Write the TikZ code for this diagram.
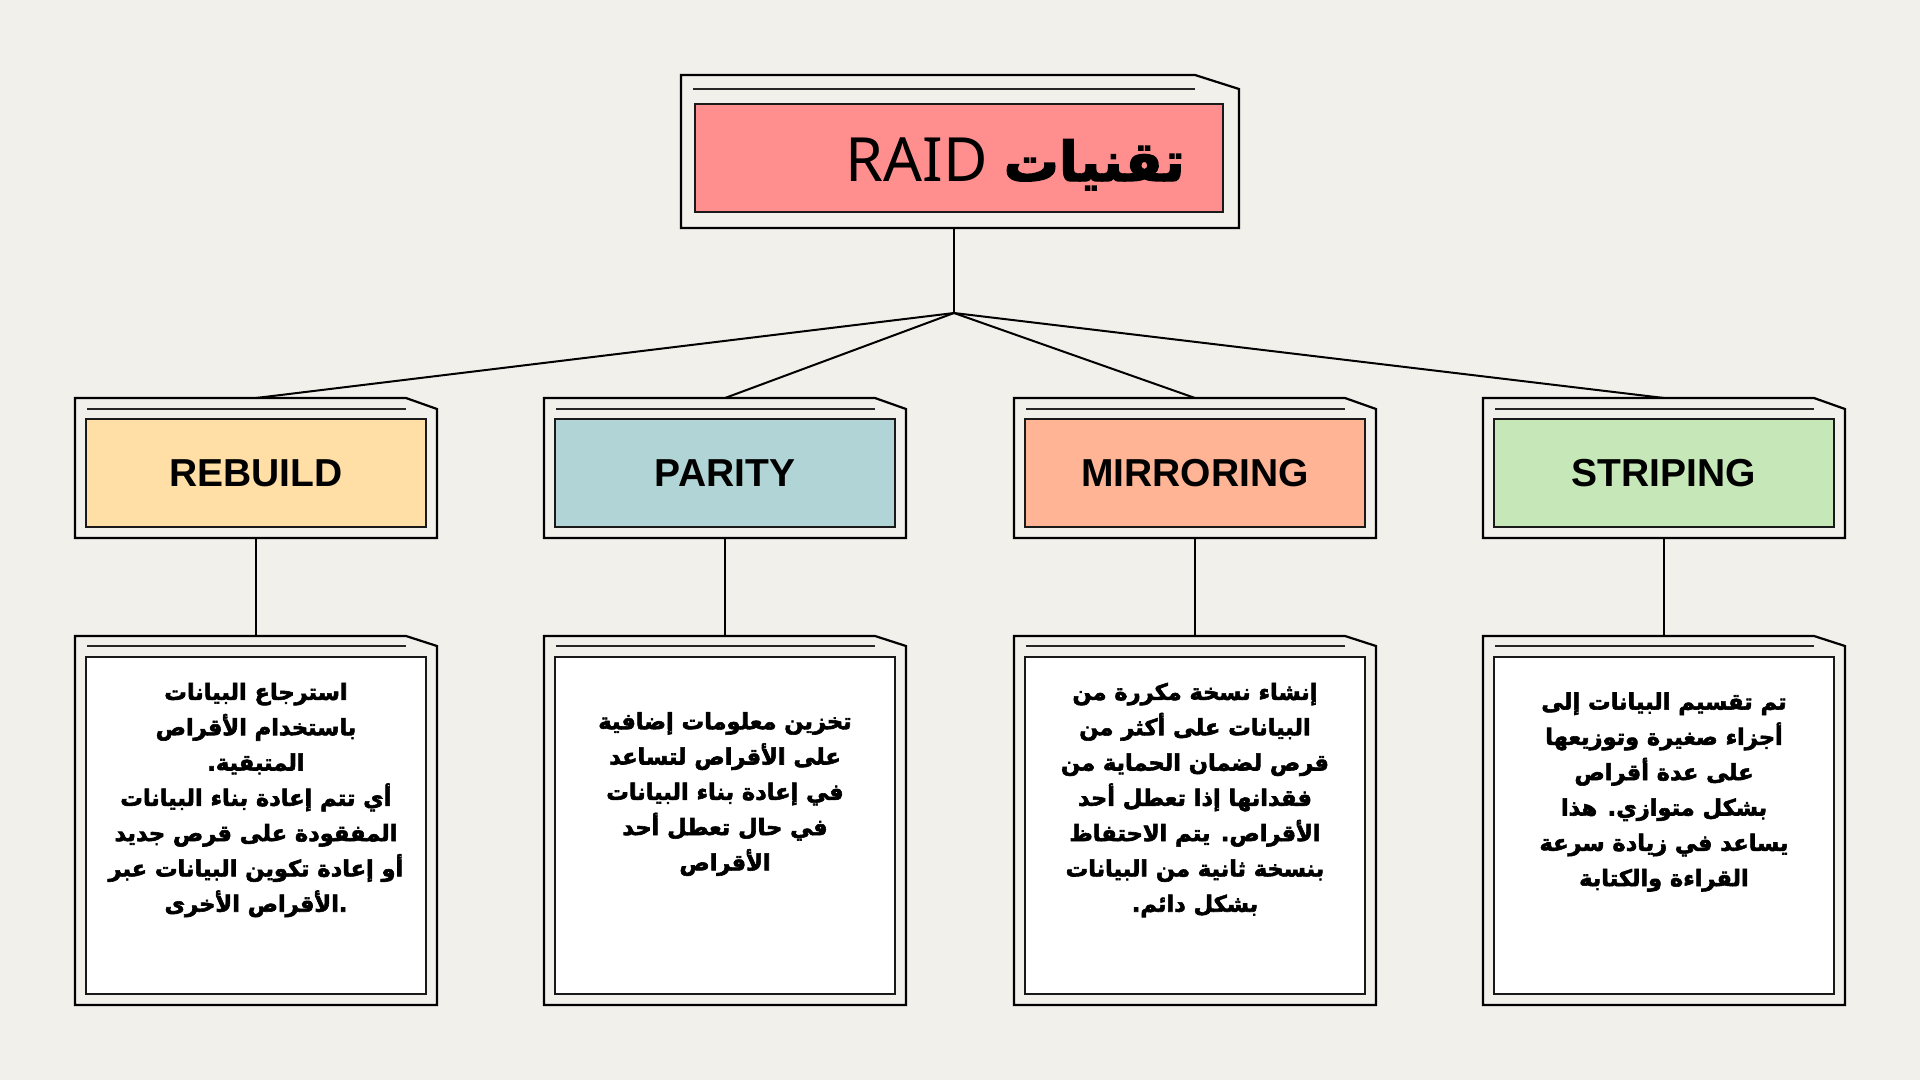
\documentclass[tikz,border=0pt]{standalone}
\usepackage{fontspec}
\TeXXeTstate=1
\newfontfamily\arabicfont[Script=Arabic, BoldFont={DejaVu Sans Bold}, BoldFeatures={FakeBold=2.6}]{DejaVu Sans}
\newfontfamily\labelfont{Liberation Sans}
\newfontfamily\raidfont{Noto Sans}
\definecolor{bgc}{HTML}{F1F0EB}
\definecolor{pinkc}{HTML}{FF8F8F}
\definecolor{yellowc}{HTML}{FFDFA6}
\definecolor{tealc}{HTML}{B1D5D6}
\definecolor{salmonc}{HTML}{FFB496}
\definecolor{greenc}{HTML}{C6E7B7}
\newcommand{\rl}[1]{\beginR#1\endR}
\newcommand{\rkframe}[7]{%
  \node[framenode, minimum width=#4pt, minimum height=#5pt, anchor=north] (#1) at (#2,#3) {};
  \draw[frame] (#1.north west) -- ([xshift=-#6pt]#1.north east) -- ([yshift=-#7pt]#1.north east) -- (#1.south east) -- (#1.south west) -- cycle;
  \draw[rule] ([xshift=12pt,yshift=-#7pt]#1.north west) -- ([xshift=-#6pt,yshift=-#7pt]#1.north east);
}
\tikzset{
  framenode/.style={shape=rectangle, inner sep=0pt, outer sep=0pt},
  frame/.style={draw=black, line width=2.2pt, fill=bgc, line join=miter},
  rule/.style={draw=black!85, line width=1.8pt},
  fillbox/.style={draw=black!90, line width=2pt, inner sep=0pt, outer sep=0pt},
  headbox/.style={fillbox, minimum width=340pt, minimum height=108pt, font=\labelfont\bfseries\fontsize{39}{46}\selectfont},
  descbox/.style={fillbox, fill=white, minimum width=340pt, minimum height=337pt},
  desctext/.style={align=center, inner sep=0pt, font=\arabicfont\bfseries\fontsize{22.5}{35.3}\selectfont},
  wire/.style={draw=black, line width=2pt},
}
\begin{document}
\begin{tikzpicture}[x=1pt,y=-1pt]
\fill[bgc] (0,0) rectangle (1920,1080);
\path[use as bounding box] (0,0) rectangle (1920,1080);

% title
\rkframe{topframe}{960}{75}{558}{153}{44}{14}
\node[fillbox, fill=pinkc, minimum width=528pt, minimum height=108pt] (title) at (959,158) {};
\node[anchor=base east, inner sep=0pt] (titletext) at (1185,181)
  {{\raidfont\fontsize{61}{70}\selectfont RAID}\hspace{16pt}{\arabicfont\bfseries\fontsize{55}{64}\selectfont\rl{تقنيات}}};

% level 2 frames
\rkframe{rebf}{256}{398}{362}{140}{31}{11}
\rkframe{parf}{725}{398}{362}{140}{31}{11}
\rkframe{mirf}{1195}{398}{362}{140}{31}{11}
\rkframe{strf}{1664}{398}{362}{140}{31}{11}
\node[headbox, fill=yellowc] (reb) at (256,473) {REBUILD};
\node[headbox, fill=tealc] (par) at (725,473) {PARITY};
\node[headbox, fill=salmonc] (mir) at (1195,473) {MIRRORING};
\node[headbox, fill=greenc] (str) at (1664,473) {STRIPING};

% level 3 frames
\rkframe{rebdf}{256}{636}{362}{369}{31}{10}
\rkframe{pardf}{725}{636}{362}{369}{31}{10}
\rkframe{mirdf}{1195}{636}{362}{369}{31}{10}
\rkframe{strdf}{1664}{636}{362}{369}{31}{10}
\node[descbox] (rebd) at (256,825.5) {};
\node[descbox] (pard) at (725,825.5) {};
\node[descbox] (mird) at (1195,825.5) {};
\node[descbox] (strd) at (1664,825.5) {};

\node[desctext] (rebt) at (256,800) {\rl{استرجاع البيانات}\\\rl{باستخدام الأقراص}\\\rl{المتبقية.}\\\rl{أي تتم إعادة بناء البيانات}\\\rl{المفقودة على قرص جديد}\\\rl{أو إعادة تكوين البيانات عبر}\\\rl{.الأقراص الأخرى}};
\node[desctext] (part) at (725,794) {\rl{تخزين معلومات إضافية}\\\rl{على الأقراص لتساعد}\\\rl{في إعادة بناء البيانات}\\\rl{في حال تعطل أحد}\\\rl{الأقراص}};
\node[desctext] (mirt) at (1195,800) {\rl{إنشاء نسخة مكررة من}\\\rl{البيانات على أكثر من}\\\rl{قرص لضمان الحماية من}\\\rl{فقدانها إذا تعطل أحد}\\\rl{الأقراص. يتم الاحتفاظ}\\\rl{بنسخة ثانية من البيانات}\\\rl{بشكل دائم.}};
\node[desctext] (strt) at (1664,792) {\rl{تم تقسيم البيانات إلى}\\\rl{أجزاء صغيرة وتوزيعها}\\\rl{على عدة أقراص}\\\rl{بشكل متوازي. هذا}\\\rl{يساعد في زيادة سرعة}\\\rl{القراءة والكتابة}};

% connectors
\coordinate (hub) at (954,313);
\draw[wire] (topframe.south -| hub) -- (hub);
\draw[wire] (hub) -- (rebf.north);
\draw[wire] (hub) -- (parf.north);
\draw[wire] (hub) -- (mirf.north);
\draw[wire] (hub) -- (strf.north);
\draw[wire] (rebf.south) -- (rebdf.north);
\draw[wire] (parf.south) -- (pardf.north);
\draw[wire] (mirf.south) -- (mirdf.north);
\draw[wire] (strf.south) -- (strdf.north);
\end{tikzpicture}
\end{document}
